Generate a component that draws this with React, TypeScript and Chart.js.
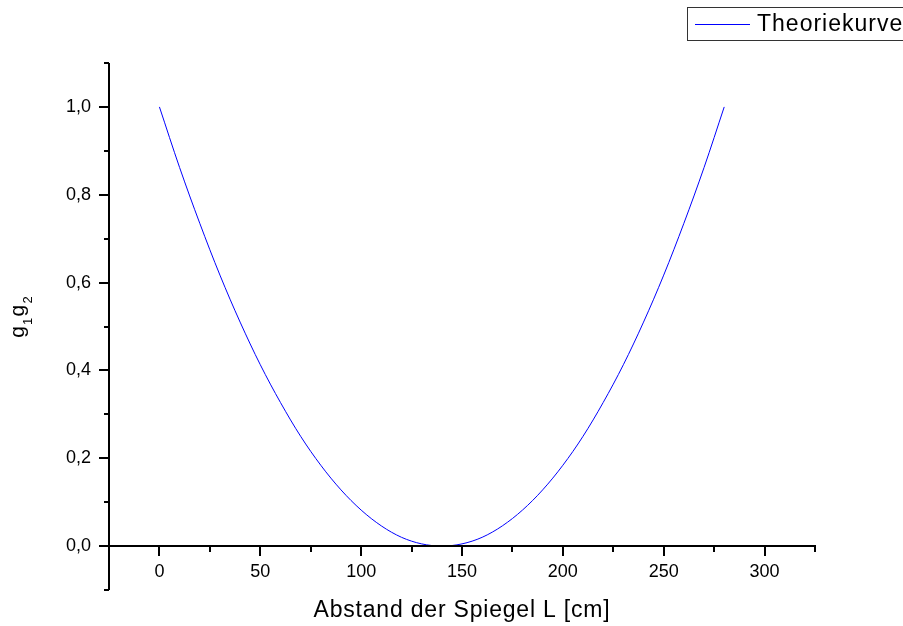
import React, { useEffect, useRef } from "react";
import { Chart, registerables } from "chart.js";

Chart.register(...registerables);

// Mirror distance L in cm (x values)
const distanceCm = [
  0, 10, 20, 30, 40, 50, 60, 70, 80, 90, 100, 110, 120, 130, 140,
  150, 160, 170, 180, 190, 200, 210, 220, 230, 240, 250, 260, 270, 280,
];
// g1*g2 values
const g1g2Values = [
  1.0, 0.862, 0.735, 0.617, 0.51, 0.413, 0.327, 0.25, 0.184, 0.128, 0.082,
  0.046, 0.02, 0.005, 0.0, 0.005, 0.02, 0.046, 0.082, 0.128, 0.184, 0.25,
  0.327, 0.413, 0.51, 0.617, 0.735, 0.862, 1.0,
];

const seriesLabel = "Theoriekurve";
const xTitle = "Abstand der Spiegel L [cm]";
const xMin = -25;
const xMax = 325;
const xTickStep = 25;
const xLabelStep = 50;
const yMin = -0.1;
const yMax = 1.1;
const yTickStep = 0.1;

const FONT = "'Liberation Sans', Arial, sans-serif";

const isXMajor = (v: number) => Math.round(v) % xLabelStep === 0 && Math.round(v) >= 0 && Math.round(v) <= 300;
const isYMajor = (v: number) => {
  const n = Math.round(v * 10);
  return n % 2 === 0 && n >= 0 && n <= 10;
};

const axesPlugin = {
  id: "originAxes",
  afterDraw(chart: any) {
    const ctx = chart.ctx;
    const xs = chart.scales.x;
    const ys = chart.scales.y;
    const { left, right, top, bottom } = chart.chartArea;
    const y0 = Math.round(ys.getPixelForValue(0));
    const lx = Math.round(left);
    ctx.save();
    ctx.strokeStyle = "#000";
    ctx.lineWidth = 2;
    ctx.lineCap = "butt";
    // axis lines
    ctx.beginPath();
    ctx.moveTo(lx, top);
    ctx.lineTo(lx, bottom);
    ctx.moveTo(lx - 1, y0);
    ctx.lineTo(right + 1, y0);
    ctx.stroke();
    // x ticks
    xs.ticks.forEach((t: any) => {
      const px = Math.round(xs.getPixelForValue(t.value));
      const len = isXMajor(t.value) ? 10 : 6;
      ctx.beginPath();
      ctx.moveTo(px, y0);
      ctx.lineTo(px, y0 + len);
      ctx.stroke();
    });
    // y ticks
    ys.ticks.forEach((t: any) => {
      const py = Math.round(ys.getPixelForValue(t.value));
      const len = isYMajor(t.value) ? 10 : 5;
      ctx.beginPath();
      ctx.moveTo(lx - len, py);
      ctx.lineTo(lx, py);
      ctx.stroke();
    });
    // x title
    ctx.fillStyle = "#000";
    ctx.font = `23px ${FONT}`;
    (ctx as any).letterSpacing = "0.8px";
    ctx.textAlign = "center";
    ctx.textBaseline = "alphabetic";
    ctx.fillText(xTitle, (left + right) / 2, chart.height - 9);
    // y title g1g2 with subscripts
    (ctx as any).letterSpacing = "1.2px";
    const parts = [
      { t: "g", size: 21, dy: 0 },
      { t: "1", size: 13, dy: 8 },
      { t: "g", size: 21, dy: 0 },
      { t: "2", size: 13, dy: 8 },
    ];
    let total = 0;
    const widths = parts.map((p) => {
      ctx.font = `${p.size}px ${FONT}`;
      const w = ctx.measureText(p.t).width;
      total += w;
      return w;
    });
    ctx.translate(24, (top + bottom) / 2 - 10);
    ctx.rotate(-Math.PI / 2);
    ctx.textAlign = "left";
    let cx = -total / 2;
    parts.forEach((p, i) => {
      ctx.font = `${p.size}px ${FONT}`;
      ctx.fillText(p.t, cx, p.dy);
      cx += widths[i];
    });
    ctx.restore();

    // legend
    ctx.save();
    const lgX = chart.width - 216;
    const lgY = 7;
    const lgH = 33;
    ctx.fillStyle = "#fff";
    ctx.fillRect(lgX + 0.5, lgY + 0.5, 260, lgH);
    ctx.strokeStyle = "#333";
    ctx.lineWidth = 1;
    ctx.strokeRect(lgX + 0.5, lgY + 0.5, 260, lgH);
    const ds = chart.data.datasets[0];
    ctx.strokeStyle = ds.borderColor;
    ctx.beginPath();
    ctx.moveTo(lgX + 8, lgY + 17.5);
    ctx.lineTo(lgX + 63, lgY + 17.5);
    ctx.stroke();
    ctx.fillStyle = "#000";
    ctx.font = `23px ${FONT}`;
    (ctx as any).letterSpacing = "1px";
    ctx.textAlign = "left";
    ctx.textBaseline = "middle";
    ctx.fillText(ds.label, lgX + 70, lgY + 18);
    ctx.restore();
  },
};

export default function App() {
  const canvasRef = useRef<HTMLCanvasElement | null>(null);

  useEffect(() => {
    if (!canvasRef.current) return;
    const points = distanceCm.map((x, i) => ({ x, y: g1g2Values[i] }));
    const chart = new Chart(canvasRef.current, {
      type: "line",
      data: {
        datasets: [
          {
            label: seriesLabel,
            data: points,
            borderColor: "#0000ff",
            borderWidth: 1,
            pointRadius: 0,
            fill: false,
            cubicInterpolationMode: "monotone",
          },
        ],
      },
      options: {
        responsive: false,
        animation: false,
        events: [],
        layout: { padding: { left: 0, top: 63, right: 88, bottom: 36 } },
        plugins: {
          legend: { display: false },
          tooltip: { enabled: false },
          title: { display: false },
        },
        scales: {
          x: {
            type: "linear",
            position: { y: 0 } as any,
            min: xMin,
            max: xMax,
            border: { display: false },
            grid: {
              display: true,
              drawOnChartArea: false,
              drawTicks: true,
              tickLength: 10,
              color: "transparent",
              tickColor: "transparent",
            },
            ticks: {
              stepSize: xTickStep,
              autoSkip: false,
              maxRotation: 0,
              padding: 5,
              color: "#000",
              font: { family: FONT, size: 18 },
              callback: (v: any) => (isXMajor(Number(v)) ? String(Math.round(Number(v))) : ""),
            },
          },
          y: {
            type: "linear",
            position: "left",
            min: yMin,
            max: yMax,
            border: { display: false },
            afterFit: (s: any) => {
              s.width = 109;
            },
            grid: {
              display: true,
              drawOnChartArea: false,
              drawTicks: true,
              tickLength: 10,
              color: "transparent",
              tickColor: "transparent",
            },
            ticks: {
              stepSize: yTickStep,
              autoSkip: false,
              padding: 8,
              color: "#000",
              font: { family: FONT, size: 18 },
              callback: (v: any) =>
                isYMajor(Number(v)) ? (Math.round(Number(v) * 10) / 10).toFixed(1).replace(".", ",") : "",
            },
          },
        },
      },
      plugins: [axesPlugin],
    });
    return () => chart.destroy();
  }, []);

  return (
    <div style={{ position: "fixed", left: 0, top: 0, width: 903, height: 626, background: "#fff" }}>
      <canvas ref={canvasRef} width={903} height={626} style={{ display: "block" }} />
    </div>
  );
}
